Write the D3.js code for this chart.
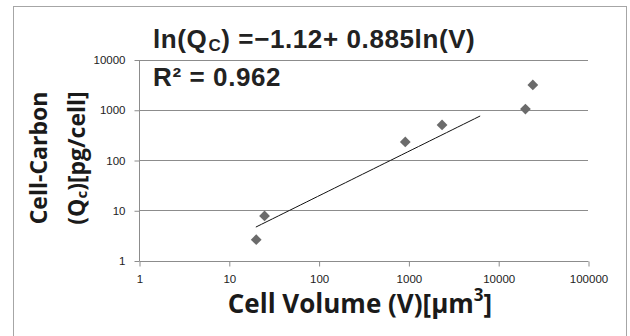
<!DOCTYPE html>
<html>
<head>
<meta charset="utf-8">
<script src="https://cdn.jsdelivr.net/npm/d3@7"></script>
<style>
  body { margin: 0; background: #fff; }
  svg { display: block; }
</style>
</head>
<body>
<div id="chart"></div>
<script>
// dati
var volumes = [20.2, 25, 923, 2370, 20100, 24300];
var carbon = [2.6, 7.7, 229, 500, 1030, 3120];
var xTicks = [1, 10, 100, 1000, 10000, 100000];
var yTicks = [1, 10, 100, 1000, 10000];
// retta di regressione: ln(Qc) = a + b ln(V), disegnata tra questi volumi
var fitA = -1.12, fitB = 0.885;
var fitRange = [20, 6300];

var width = 630, height = 336;
var svg = d3.select('#chart').append('svg').attr('width', width).attr('height', height);

// cornice esterna
svg.append('rect').attr('x', 13.5).attr('y', 6.5).attr('width', 613).attr('height', 340)
    .attr('fill', '#fff').attr('stroke', '#a6a6a6').attr('stroke-width', 1);

var x = d3.scaleLog().domain([1, 100000]).range([139, 588]);
var y = d3.scaleLog().domain([1, 10000]).range([260.5, 59.5]);

// griglia orizzontale
svg.append('g').selectAll('line')
    .data(yTicks.slice(1))
    .enter().append('line')
    .attr('x1', x.range()[0]).attr('x2', x.range()[1])
    .attr('y1', d => Math.round(y(d)) + 0.5).attr('y2', d => Math.round(y(d)) + 0.5)
    .attr('stroke', '#8c8c8c').attr('stroke-width', 1);

// assi
var yAxis = svg.append('g').attr('transform', 'translate(' + (x.range()[0] + 0.5) + ',0.5)')
    .call(d3.axisLeft(y).tickValues(yTicks).tickFormat(d3.format('d')).tickSize(5).tickPadding(9));
var xAxis = svg.append('g').attr('transform', 'translate(0.5,' + (Math.round(y.range()[0]) + 0.5) + ')')
    .call(d3.axisBottom(x).tickValues(xTicks).tickFormat(d3.format('d')).tickSize(5).tickPadding(8));

[xAxis, yAxis].forEach(function (g) {
    g.selectAll('path, line').attr('stroke', '#8c8c8c');
    g.selectAll('text').attr('fill', '#222').style('font-family', 'Liberation Sans, Arial, sans-serif').style('font-size', '11.5px');
});
xAxis.select('.domain').attr('d', 'M' + x.range()[0] + ',0H' + x.range()[1]);
yAxis.select('.domain').attr('d', 'M0,' + y.range()[0] + 'V' + y.range()[1]);

// linea di tendenza
var fitData = d3.range(0, 41).map(function (i) {
    var lv = Math.log(fitRange[0]) + (Math.log(fitRange[1]) - Math.log(fitRange[0])) * i / 40;
    return [Math.exp(lv), Math.exp(fitA + fitB * lv)];
});
svg.append('path')
    .datum(fitData)
    .attr('d', d3.line().x(d => x(d[0])).y(d => y(d[1])))
    .attr('fill', 'none').attr('stroke', '#111').attr('stroke-width', 1);

// punti
svg.append('g').selectAll('path')
    .data(volumes.map((v, i) => [v, carbon[i]]))
    .enter().append('path')
    .attr('d', d3.symbol(d3.symbolSquare, 58))
    .attr('transform', d => 'translate(' + x(d[0]) + ',' + y(d[1]) + ') rotate(45)')
    .attr('fill', '#6b6b6b');

// equazione
var eqFont = 'Liberation Sans, Arial, sans-serif';
var eq = svg.append('text').attr('x', 153).attr('y', 48)
    .style('font-family', eqFont).style('font-size', '26px').style('font-weight', 'bold')
    .style('letter-spacing', '0.6px').attr('fill', '#222');
eq.append('tspan').text('ln(Q');
eq.append('tspan').text('C').style('font-size', '17px').attr('dy', 3).attr('dx', 1);
eq.append('tspan').text(') =\u2212' + Math.abs(fitA).toFixed(2) + '+ ' + fitB.toFixed(3) + 'ln(V)').attr('dy', -3);

svg.append('text').attr('x', 153).attr('y', 86)
    .style('font-family', eqFont).style('font-size', '26px').style('font-weight', 'bold')
    .style('letter-spacing', '0.6px').attr('fill', '#222')
    .text('R\u00b2 = 0.962');

// titoli degli assi
var titleFont = 'Open Sans, sans-serif';
var yt = svg.append('g').attr('transform', 'translate(0,158) rotate(-90)')
    .style('font-family', titleFont).style('font-weight', 'bold').style('font-size', '23px').attr('fill', '#1a1a1a');
yt.append('text').attr('x', 0).attr('y', 47).attr('text-anchor', 'middle').text('Cell-Carbon');
var yt2 = yt.append('text').attr('x', 0).attr('y', 85).attr('text-anchor', 'middle');
yt2.append('tspan').text('(Q');
yt2.append('tspan').text('c').style('font-size', '15px').attr('dy', 2);
yt2.append('tspan').text(')[pg/cell]').attr('dy', -2);

var xt = svg.append('text').attr('x', 360).attr('y', 313).attr('text-anchor', 'middle')
    .style('font-family', titleFont).style('font-weight', 'bold').style('font-size', '26px').attr('fill', '#1a1a1a');
xt.append('tspan').text('Cell Volume (V)[\u03bcm');
xt.append('tspan').text('3').style('font-size', '17px').attr('dy', -12);
xt.append('tspan').text(']').attr('dy', 12);
</script>
</body>
</html>
